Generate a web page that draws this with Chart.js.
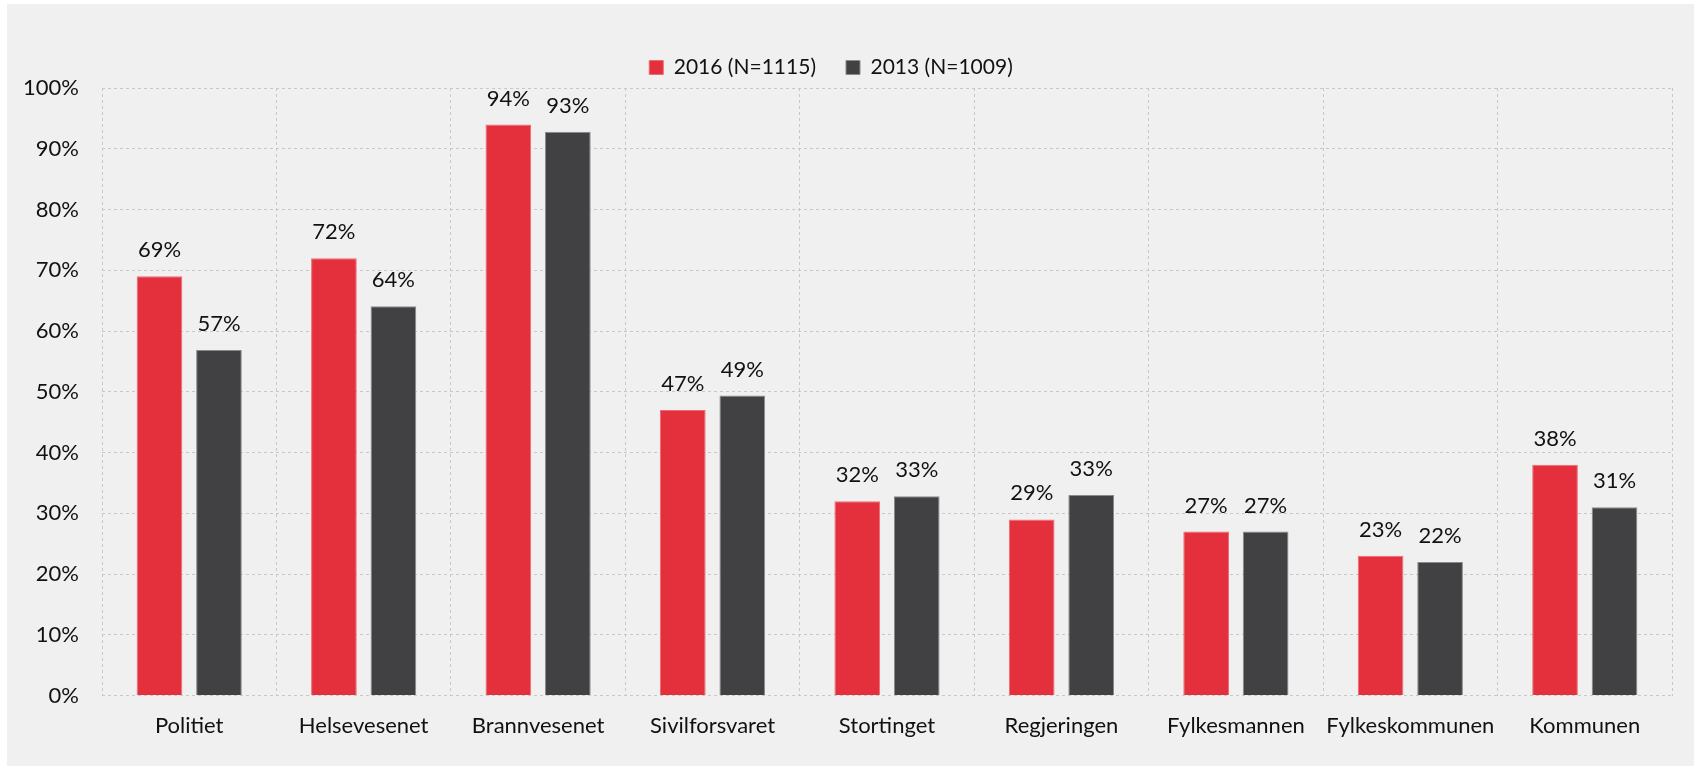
<!DOCTYPE html>
<html>
<head>
<meta charset="utf-8">
<script src="https://cdn.jsdelivr.net/npm/chart.js@4.4.0/dist/chart.umd.min.js"></script>
<style>
  html, body { margin: 0; padding: 0; background: #fff; overflow: hidden; }
  #panel { position: absolute; left: 7px; top: 4px; width: 1687px; height: 762px; background: #f0f0f0; }
  #chart { position: absolute; left: -12px; top: 4px; }
</style>
</head>
<body>
<div id="panel"></div>
<canvas id="chart" width="1700" height="762"></canvas>
<script>
const categories = ['Politiet', 'Helsevesenet', 'Brannvesenet', 'Sivilforsvaret', 'Stortinget',
  'Regjeringen', 'Fylkesmannen', 'Fylkeskommunen', 'Kommunen'];
const values2016 = [69, 72, 94, 47, 32, 29, 27, 23, 38];
const values2013 = [56.9, 64.1, 92.8, 49.4, 32.8, 33, 27, 22, 31];
const seriesNames = ['2016 (N=1115)', '2013 (N=1009)'];
const yTicks = [0, 10, 20, 30, 40, 50, 60, 70, 80, 90, 100];

const FONT = 'Lato';

// value labels above the bars
const barLabels = {
  id: 'barLabels',
  afterDatasetsDraw(chart) {
    const ctx = chart.ctx;
    ctx.save();
    ctx.font = `22px ${FONT}`;
    ctx.fillStyle = '#111';
    ctx.textAlign = 'center';
    ctx.textBaseline = 'middle';
    chart.data.datasets.forEach((ds, i) => {
      chart.getDatasetMeta(i).data.forEach((bar, j) => {
        ctx.fillText(Math.round(ds.data[j]) + '%', bar.x, bar.y - 26);
      });
    });
    ctx.restore();
  }
};

new Chart(document.getElementById('chart'), {
  type: 'bar',
  data: {
    labels: categories,
    datasets: [{
      label: seriesNames[0],
      data: values2016,
      backgroundColor: '#e3303c',
      borderColor: '#ee6a73',
      borderWidth: 1,
    }, {
      label: seriesNames[1],
      data: values2013,
      backgroundColor: '#414143',
      borderColor: '#8a8a8a',
      borderWidth: 1,
    }]
  },
  options: {
    responsive: false,
    animation: false,
    layout: { padding: { left: 2, right: 16, top: 23, bottom: 10 } },
    datasets: { bar: { categoryPercentage: 0.682, barPercentage: 0.768 } },
    plugins: {
      legend: {
        labels: {
          color: '#111',
          font: { family: FONT, size: 21 },
          boxWidth: 14, boxHeight: 14,
          padding: 30,
        }
      },
      tooltip: { enabled: false }
    },
    scales: {
      x: {
        grid: { color: '#c8c8c8', drawTicks: false, offset: true },
        border: { display: false, dash: [3, 3] },
        ticks: { color: '#111', font: { family: FONT, size: 22 }, padding: 17 }
      },
      y: {
        min: 0, max: 100,
        afterFit: (s) => { s.width = 112; },
        afterBuildTicks: (s) => { s.ticks = yTicks.map((v) => ({ value: v })); },
        grid: { color: '#c8c8c8', drawTicks: false },
        border: { display: false, dash: [3, 3] },
        ticks: { color: '#111', font: { family: FONT, size: 22 }, padding: 23, callback: (v) => v + '%' }
      }
    }
  },
  plugins: [barLabels]
});
</script>
</body>
</html>
